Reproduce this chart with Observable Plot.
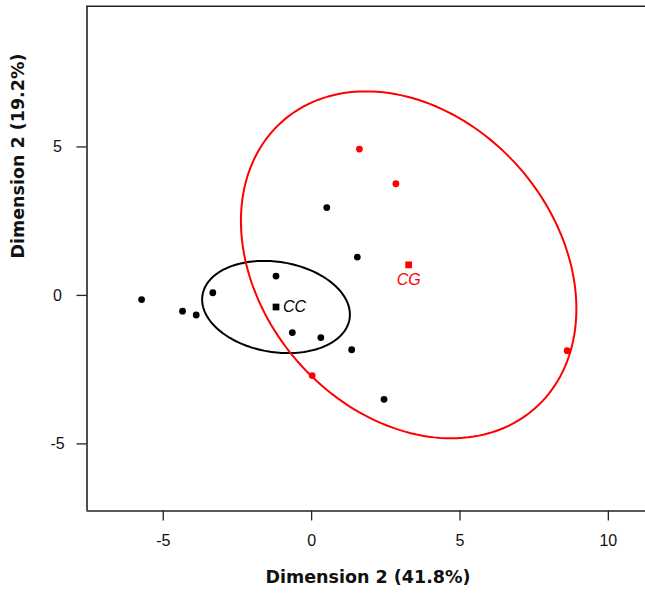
<!DOCTYPE html>
<html>
<head>
<meta charset="utf-8">
<script src="https://cdn.jsdelivr.net/npm/d3@7"></script>
<script src="https://cdn.jsdelivr.net/npm/@observablehq/plot@0.6"></script>
<style>
  html, body { margin: 0; padding: 0; background: #fff; overflow: hidden; }
  #chart { width: 645px; height: 594px; }
</style>
</head>
<body>
<div id="chart"></div>
<script>
// ---- data ----
const ccX = [-5.73, -4.35, -3.89, -3.33, -1.20, -0.65, 0.31, 1.35, 0.51, 1.54, 2.44];
const ccY = [-0.14, -0.53, -0.66, 0.09, 0.65, -1.25, -1.42, -1.83, 2.96, 1.29, -3.50];
const cgX = [1.61, 2.84, 0.02, 8.61];
const cgY = [4.93, 3.76, -2.70, -1.86];

const groupNames = ["CC", "CG"];
const groupColors = ["#000000", "#ff0000"];
const centroidX = [-1.20, 3.27];
const centroidY = [-0.39, 1.03];

// ellipse geometry (semi-axes and tilt in data units / degrees)
const ellipseA = [2.51, 6.44];
const ellipseB = [1.52, 4.96];
const ellipseAngle = [-9.2, -48.7];

const xTicks = [-5, 0, 5, 10];
const yTicks = [-5, 0, 5];
const xDomain = [-7.57, 11.37];
const yDomain = [-7.26, 9.74];
const xTitle = "Dimension 2 (41.8%)";
const yTitle = "Dimension 2 (19.2%)";

// ---- build tables ----
const points = [
  ...ccX.map((x, i) => ({x, y: ccY[i], g: "CC"})),
  ...cgX.map((x, i) => ({x, y: cgY[i], g: "CG"}))
];
const centroids = groupNames.map((g, i) => ({x: centroidX[i], y: centroidY[i], g}));
const ellipses = groupNames.flatMap((g, i) => {
  const th = ellipseAngle[i] * Math.PI / 180;
  return d3.range(0, 361, 2).map(deg => {
    const t = deg * Math.PI / 180;
    return {
      g,
      x: centroidX[i] + ellipseA[i] * Math.cos(t) * Math.cos(th) - ellipseB[i] * Math.sin(t) * Math.sin(th),
      y: centroidY[i] + ellipseA[i] * Math.cos(t) * Math.sin(th) + ellipseB[i] * Math.sin(t) * Math.cos(th)
    };
  });
});

const color = {domain: groupNames, range: groupColors};
const tickFont = "Liberation Sans";
const titleFont = "DejaVu Sans";
const fmt = d => String(d);

const chart = Plot.plot({
  width: 645,
  height: 594,
  marginLeft: 86.5,
  marginRight: -3.5,
  marginTop: 5.7,
  marginBottom: 83.5,
  style: {background: "white", overflow: "hidden"},
  x: {domain: xDomain, axis: null},
  y: {domain: yDomain, axis: null},
  color: color,
  marks: [
    // frame (left, top, bottom)
    Plot.ruleX([xDomain[0]], {stroke: "#222", strokeWidth: 1.6}),
    Plot.ruleY([yDomain[0], yDomain[1]], {stroke: "#222", strokeWidth: 1.6}),
    // axes
    Plot.axisX(xTicks, {anchor: "bottom", tickSize: 10, tickPadding: 14, tickFormat: fmt, fontSize: 16, fontFamily: tickFont, fill: "#111", stroke: "#222", strokeWidth: 1.3, label: null}),
    Plot.axisY(yTicks, {anchor: "left", tickSize: 10, tickPadding: 19.5, tickFormat: fmt, textAnchor: "middle", fontSize: 16, fontFamily: tickFont, fill: "#111", stroke: "#222", strokeWidth: 1.3, label: null}),
    // ellipses
    Plot.line(ellipses, {x: "x", y: "y", z: "g", stroke: d => d.g, strokeWidth: 2, curve: "linear-closed"}),
    // points
    Plot.dot(points, {x: "x", y: "y", fill: "g", r: 3.4, stroke: null}),
    // centroids
    Plot.dot(centroids, {x: "x", y: "y", fill: "g", symbol: "square", r: 3.8, stroke: null}),
    Plot.text(centroids.filter(d => d.g === "CC"), {x: "x", y: "y", text: "g", fill: "g", dx: 7, textAnchor: "start", fontStyle: "italic", fontSize: 16, fontFamily: tickFont}),
    Plot.text(centroids.filter(d => d.g === "CG"), {x: "x", y: "y", text: "g", fill: "g", dy: 15.5, textAnchor: "middle", fontStyle: "italic", fontSize: 16, fontFamily: tickFont}),
    // axis titles
    Plot.text([xTitle], {frameAnchor: "bottom", dy: 72, text: d => d, fontSize: 17.5, fontWeight: "bold", fontFamily: titleFont, fill: "#111"}),
    Plot.text([yTitle], {frameAnchor: "left", dx: -68.5, rotate: -90, text: d => d, fontSize: 17.5, fontWeight: "bold", fontFamily: titleFont, fill: "#111"})
  ]
});
document.getElementById("chart").appendChild(chart);
</script>
</body>
</html>
